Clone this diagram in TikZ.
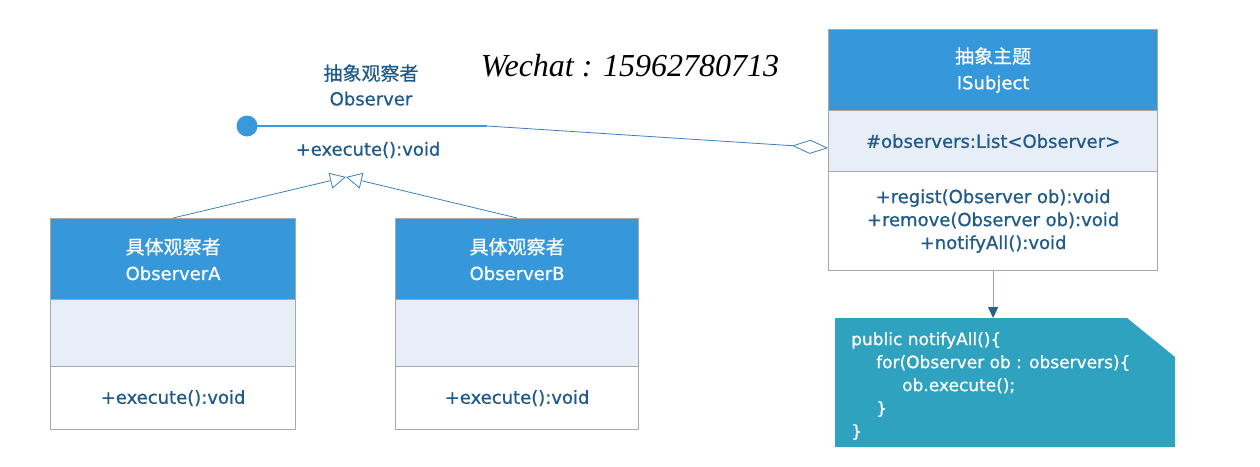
\documentclass[tikz,border=0pt]{standalone}
\usepackage{fontspec}
\setmainfont{DejaVu Sans}[FakeBold=0.7]
\newfontfamily\cjk{Noto Sans CJK SC}[FakeBold=0.5]
\newfontfamily\hand{Liberation Serif}
\usetikzlibrary{arrows.meta}
\definecolor{hdrblue}{HTML}{3797DB}
\definecolor{attrbg}{HTML}{E8EEF8}
\definecolor{bordergray}{HTML}{A8A8A8}
\definecolor{txtblue}{HTML}{1E5A8A}
\definecolor{lolly}{HTML}{3A98DC}
\definecolor{linkblue}{HTML}{3A80C2}
\definecolor{noteteal}{HTML}{2EA2BF}
\definecolor{arrgray}{HTML}{8AA9C8}
\definecolor{arrdark}{HTML}{2C5D8F}
\begin{document}
\begin{tikzpicture}[x=1pt,y=-1pt,
  box/.style={draw=bordergray, line width=1.2pt, inner sep=0pt, anchor=north west, align=center},
  hdr/.style={box, fill=hdrblue, text=white, font=\fontsize{18}{26}\selectfont},
  attr/.style={box, fill=attrbg, text=txtblue, font=\fontsize{18}{23}\selectfont},
  meth/.style={box, fill=white, text=txtblue, font=\fontsize{18}{23}\selectfont},
  lbl/.style={text=txtblue, inner sep=0pt, align=center, font=\fontsize{18}{25}\selectfont},
  thinlink/.style={draw=linkblue, line width=0.8pt},
  arrline/.style={draw=arrgray, line width=1.2pt}
]
\useasboundingbox (0,0) rectangle (1260,466);

% ISubject
\node[hdr, minimum width=329pt, minimum height=81pt] (subjH) at (828,29) {{\cjk\fontsize{19}{26}\selectfont 抽象主题}\\ISubject};
\node[attr, minimum width=329pt, minimum height=61pt] (subjA) at (828,110) {\#observers:List<Observer>};
\node[meth, minimum width=329pt, minimum height=99pt] (subjM) at (828,171) {+regist(Observer ob):void\\+remove(Observer ob):void\\+notifyAll():void};

% ObserverA
\node[hdr, minimum width=245pt, minimum height=81pt] (oaH) at (50,218) {{\cjk\fontsize{19}{26}\selectfont 具体观察者}\\ObserverA};
\node[attr, minimum width=245pt, minimum height=67pt] (oaA) at (50,299) {};
\node[meth, minimum width=245pt, minimum height=63pt] (oaM) at (50,366) {+execute():void};

% ObserverB
\node[hdr, minimum width=243pt, minimum height=81pt] (obH) at (395,218) {{\cjk\fontsize{19}{26}\selectfont 具体观察者}\\ObserverB};
\node[attr, minimum width=243pt, minimum height=67pt] (obA) at (395,299) {};
\node[meth, minimum width=243pt, minimum height=63pt] (obM) at (395,366) {+execute():void};

% Observer interface (lollipop)
\node[lbl] (obsName) at (371,85) {{\cjk\fontsize{19}{25}\selectfont 抽象观察者}\\Observer};
\node[lbl] (obsOp) at (368,150) {+execute():void};
\node[circle, fill=lolly, minimum size=21pt, inner sep=0pt] (lollyC) at (247,126) {};
\coordinate (bend) at (487,126);
\coordinate (aggTip) at (828,148);
\draw[lolly, line width=2pt] (lollyC.center) -- (bend);
\draw[thinlink, -{Diamond[open, fill=white, length=36pt, width=14pt]}] (bend) -- (aggTip);

% inheritance
\coordinate (inh) at (346,177);
\draw[thinlink, -{Triangle[open, fill=white, length=16pt, width=16pt]}] (oaH.north) -- (inh);
\draw[thinlink, -{Triangle[open, fill=white, length=16pt, width=16pt]}] (obH.north) -- (inh);

% note
\coordinate (noteTop) at (992.5,318);
\fill[noteteal] (835,318) -- (1127,318) -- (1175,357) -- (1175,447) -- (835,447) -- cycle;
\node[anchor=north west, inner sep=0pt, align=left, text=white, font=\fontsize{17}{23}\selectfont] (noteTxt) at (851,332)
  {public notifyAll()\{\\
   \hspace*{25pt}for(Observer ob : observers)\{\\
   \hspace*{51pt}ob.execute();\\
   \hspace*{25pt}\}\\
   \}};
\draw[arrline, -{Triangle[length=11pt, width=10pt, color=arrdark]}] (subjM.south) -- (subjM.south |- noteTop);

% handwritten note
\node[inner sep=0pt, text=black, font=\fontsize{32}{32}\selectfont\hand\itshape] (wechat) at (630,66) {Wechat : 15962780713};
\end{tikzpicture}
\end{document}
